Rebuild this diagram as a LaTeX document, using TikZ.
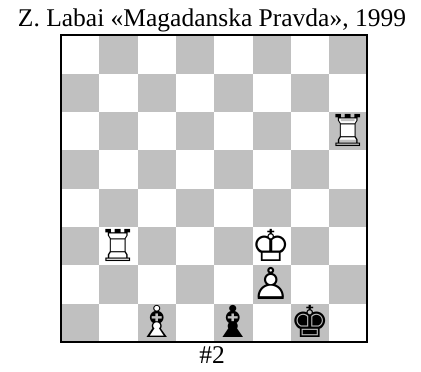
\documentclass[tikz,border=0pt]{standalone}
\usepackage{fontspec}
\setmainfont{Liberation Serif}
\newfontfamily\chessfont{DejaVu Sans}
\definecolor{BoardGray}{HTML}{C0C0C0}

\begin{document}
\begin{tikzpicture}[x=1pt,y=1pt,line join=miter,
    piece/.style={font=\chessfont\fontsize{44}{44}\selectfont,inner sep=0pt,anchor=base},
    caption/.style={font=\fontsize{25.5}{25.5}\selectfont,inner sep=0pt}]
  \useasboundingbox (0,0) rectangle (421,372);
  \def\sq{38.3}
  % squares, a1 dark; s.. = foot of each square
  \foreach \f in {0,...,7} \foreach \r in {0,...,7} {
    \pgfmathtruncatemacro\c{mod(\f+\r,2)}
    \ifnum\c=0 \fill[BoardGray] ({61+\f*\sq},{30+\r*\sq}) rectangle ++(\sq,\sq); \fi
    \coordinate (s\f\r) at ({61+(\f+.5)*\sq},{30+\r*\sq+4});
  }
  \draw[line width=1.5pt] (61,30) rectangle (367,337);
  \node[caption,anchor=base] (title) at (212,345) {Z. Labai «Magadanska Pravda», 1999};
  \node[caption,anchor=base] (stip) at (212,8) {\#2};
  % white men: white body under the outline glyph
  \foreach \s/\w/\b in {s75/♖/♜, s12/♖/♜, s52/♔/♚, s51/♙/♟, s20/♗/♝} {
    \node[piece,white] at (\s) {\b}; \node[piece] at (\s) {\w};
  }
  % black men
  \node[piece] (bBe1) at (s40) {♝}; \node[piece] (bKg1) at (s60) {♚};
\end{tikzpicture}
\end{document}
